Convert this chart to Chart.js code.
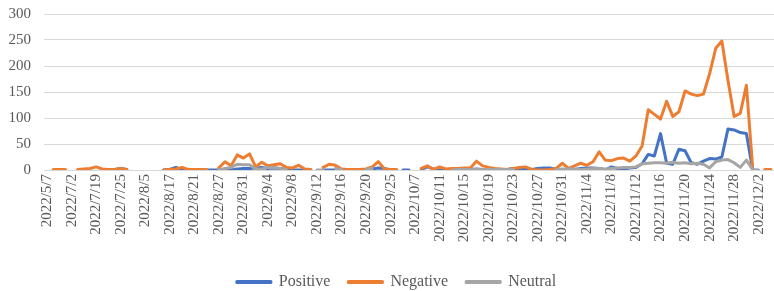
<!DOCTYPE html>
<html>
<head>
<meta charset="utf-8">
<script src="https://cdn.jsdelivr.net/npm/chart.js@4"></script>
<style>
  body { margin: 0; background: #fff; }
  #wrap { width: 774px; height: 291px; }
</style>
</head>
<body>
<div id="wrap"><canvas id="graficoSentimento"></canvas></div>
<script>
// dates on the category axis (only every 4th one is labelled)
const categories = [
  "2022/5/7","2022/5/15","2022/6/3","2022/6/20","2022/7/2","2022/7/9","2022/7/13","2022/7/16",
  "2022/7/19","2022/7/20","2022/7/22","2022/7/23","2022/7/25","2022/7/27","2022/7/29","2022/8/2",
  "2022/8/5","2022/8/9","2022/8/12","2022/8/15","2022/8/17","2022/8/18","2022/8/19","2022/8/20",
  "2022/8/21","2022/8/23","2022/8/25","2022/8/26","2022/8/27","2022/8/28","2022/8/29","2022/8/30",
  "2022/8/31","2022/9/1","2022/9/2","2022/9/3","2022/9/4","2022/9/5","2022/9/6","2022/9/7",
  "2022/9/8","2022/9/9","2022/9/10","2022/9/11","2022/9/12","2022/9/13","2022/9/14","2022/9/15",
  "2022/9/16","2022/9/17","2022/9/18","2022/9/19","2022/9/20","2022/9/21","2022/9/22","2022/9/24",
  "2022/9/25","2022/9/27","2022/9/30","2022/10/3","2022/10/7","2022/10/8","2022/10/9","2022/10/10",
  "2022/10/11","2022/10/12","2022/10/13","2022/10/14","2022/10/15","2022/10/16","2022/10/17","2022/10/18",
  "2022/10/19","2022/10/20","2022/10/21","2022/10/22","2022/10/23","2022/10/24","2022/10/25","2022/10/26",
  "2022/10/27","2022/10/28","2022/10/29","2022/10/30","2022/10/31","2022/11/1","2022/11/2","2022/11/3",
  "2022/11/4","2022/11/5","2022/11/6","2022/11/7","2022/11/8","2022/11/9","2022/11/10","2022/11/11",
  "2022/11/12","2022/11/13","2022/11/14","2022/11/15","2022/11/16","2022/11/17","2022/11/18","2022/11/19",
  "2022/11/20","2022/11/21","2022/11/22","2022/11/23","2022/11/24","2022/11/25","2022/11/26","2022/11/27",
  "2022/11/28","2022/11/29","2022/11/30","2022/12/1","2022/12/2","2022/12/3","2022/12/4"
];

// null = no value that day (Excel leaves a gap)
const positive = [
  null,null,null,null,null,null,null,null,null,null,
  null,1,3,1,null,null,null,null,null,0,
  1,5,1,0,0,0,0,0,0,1,
  0,2,3,3,4,5,3,4,3,1,
  0,0,0,0,null,0,0,0,0,0,
  0,0,0,2,4,3,0,null,0,0,
  null,1,6,2,0,0,1,1,0,1,
  2,1,1,0,0,1,3,3,2,1,
  3,4,4,1,0,0,1,3,4,4,
  3,0,6,3,2,4,5,12,30,27,
  70,13,11,40,37,14,11,17,22,21,
  25,79,77,72,70,2,null,null,null
];

const negative = [
  null,1,1,1,null,1,2,3,6,2,
  1,1,3,1,null,null,null,null,null,0,
  1,2,5,1,1,1,1,null,4,16,
  8,29,23,31,6,15,8,10,12,5,
  4,9,2,1,null,5,11,9,2,1,
  1,1,2,6,16,2,1,1,null,null,
  null,3,8,1,6,2,3,3,4,4,
  17,8,5,3,2,1,3,5,6,1,
  0,0,1,3,13,3,8,13,9,16,
  35,19,18,22,23,17,27,46,116,107,
  98,132,103,112,152,146,143,146,185,234,
  248,172,103,109,163,8,null,1,1
];

const neutral = [
  null,null,null,null,null,null,null,null,null,null,
  null,null,null,null,null,null,null,null,null,null,
  null,null,null,null,null,null,null,null,0,3,
  5,11,10,10,2,2,5,5,3,1,
  null,null,null,null,0,0,null,3,1,null,
  null,null,1,3,null,null,null,null,null,null,
  null,null,null,null,null,null,0,1,1,1,
  1,1,1,1,1,1,1,null,null,null,
  null,null,null,1,2,2,2,1,2,3,
  3,2,3,4,5,5,6,12,13,14,
  14,13,15,13,14,12,13,11,4,16,
  19,20,14,5,19,1,0,null,null
];

const yTicks = [0, 50, 100, 150, 200, 250, 300];

Chart.defaults.font.family = "'Liberation Serif', 'Times New Roman', serif";
Chart.defaults.color = "#595959";

function serie(label, data, cor, ordem) {
  return {
    label: label,
    data: data,
    borderColor: cor,
    backgroundColor: cor,
    borderWidth: 3,
    pointRadius: 0,
    pointHoverRadius: 0,
    tension: 0,
    spanGaps: false,
    borderCapStyle: "round",
    borderJoinStyle: "round",
    order: ordem
  };
}

// the legend in the picture sits a little right of the canvas centre
const moverLegenda = {
  id: "moverLegenda",
  afterLayout(chart) {
    chart.legend.left += 10;
    chart.legend.right += 10;
  }
};

const ctx = document.getElementById("graficoSentimento").getContext("2d");
new Chart(ctx, {
  type: "line",
  data: {
    labels: categories,
    datasets: [
      serie("Positive", positive, "#4472C4", 3),
      serie("Negative", negative, "#ED7D31", 2),
      serie("Neutral", neutral, "#A5A5A5", 1)
    ]
  },
  plugins: [moverLegenda],
  options: {
    responsive: true,
    maintainAspectRatio: false,
    animation: false,
    layout: { padding: { left: -3, right: -2, top: 14, bottom: -9 } },
    plugins: {
      tooltip: { enabled: false },
      legend: {
        position: "bottom",
        reverse: true,
        labels: {
          font: { size: 16 },
          boxWidth: 34,
          boxHeight: 1,
          padding: 18
        }
      }
    },
    scales: {
      x: {
        offset: true,
        grid: { display: false, drawTicks: false },
        border: { display: false },
        ticks: {
          autoSkip: false,
          maxRotation: 90,
          minRotation: 90,
          padding: 4,
          font: { size: 15 },
          callback: function (v, i) { return i % 4 === 0 ? categories[i] : ""; }
        },
        afterFit: function (s) {
          s.height = 86;
          s.paddingLeft = 0;
          s.paddingRight = 0;
        }
      },
      y: {
        min: 0,
        max: 300,
        afterBuildTicks: function (s) { s.ticks = yTicks.map(v => ({ value: v })); },
        grid: { color: "#D9D9D9", lineWidth: 1, drawTicks: false },
        border: { display: false },
        ticks: { padding: 13, font: { size: 15 } },
        afterFit: function (s) {
          s.width = 47;
          s.paddingTop = 0;
          s.paddingBottom = 0;
        }
      }
    }
  }
});
</script>
</body>
</html>
